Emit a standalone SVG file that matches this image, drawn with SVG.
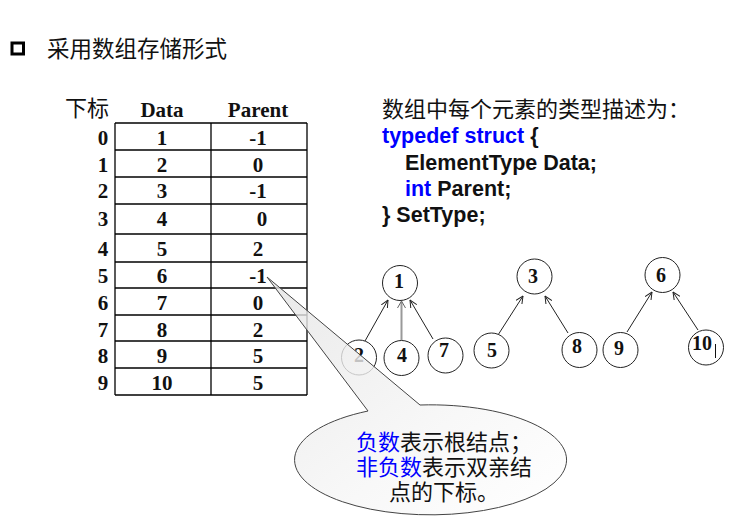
<svg xmlns="http://www.w3.org/2000/svg" width="743" height="517" viewBox="0 0 743 517">
<defs>
<style>
.cn{font-family:"Noto Sans CJK SC","Noto Sans",sans-serif;fill:#111;}
.cl{font-family:"Liberation Sans","Noto Sans CJK SC",sans-serif;font-size:22px;fill:#111;}
.blue{fill:#0000ff;}
.tb{font-family:"Liberation Serif","Times New Roman",serif;font-weight:bold;font-size:21px;fill:#111;text-anchor:middle;}
.code{font-family:"Liberation Sans",Arial,sans-serif;font-weight:bold;font-size:21.5px;fill:#111;}
.kw{fill:#0000ff;}
.grid{stroke:#000;stroke-width:1.3;fill:none;}
.node circle{fill:#fff;stroke:#222;stroke-width:1;}
.node text{font-family:"Liberation Serif","Times New Roman",serif;font-weight:bold;font-size:20px;fill:#111;text-anchor:middle;}
.edge{stroke:#222;stroke-width:1;fill:none;marker-end:url(#ah);}
</style>
<marker id="ah" viewBox="0 0 8 8" refX="7.5" refY="4" markerWidth="8" markerHeight="8" markerUnits="userSpaceOnUse" orient="auto">
<path d="M0,0.5 L7.5,4 L0,7.5" fill="none" stroke="#222" stroke-width="1"/>
</marker>
<linearGradient id="cg" x1="0" y1="0" x2="1" y2="1">
<stop offset="0" stop-color="#e4e4e4"/>
<stop offset="0.6" stop-color="#f6f6f6"/>
<stop offset="1" stop-color="#ffffff"/>
</linearGradient>
</defs>
<rect width="743" height="517" fill="#fff"/>

<g id="title">
<rect x="12" y="43" width="11.5" height="11" fill="none" stroke="#000" stroke-width="3"/>
<text class="cn" x="47" y="56.5" font-size="22.5">采用数组存储形式</text>
</g>

<g id="table">
<text class="cn" x="65" y="116" font-size="22">下标</text>
<text class="tb" x="162" y="117" font-size="21.5">Data</text>
<text class="tb" x="258" y="117" font-size="21.5">Parent</text>
<g class="grid">
<line x1="115" y1="123" x2="307" y2="123"/>
<line x1="115" y1="150" x2="307" y2="150"/>
<line x1="115" y1="177" x2="307" y2="177"/>
<line x1="115" y1="204" x2="307" y2="204"/>
<line x1="115" y1="234" x2="307" y2="234"/>
<line x1="115" y1="262" x2="307" y2="262"/>
<line x1="115" y1="288" x2="307" y2="288"/>
<line x1="115" y1="315" x2="307" y2="315"/>
<line x1="115" y1="341" x2="307" y2="341"/>
<line x1="115" y1="368" x2="307" y2="368"/>
<line x1="115" y1="395" x2="307" y2="395"/>
<line x1="115" y1="123" x2="115" y2="395"/>
<line x1="211" y1="123" x2="211" y2="395"/>
<line x1="307" y1="123" x2="307" y2="395"/>
</g>
<g class="tb">
<text x="103" y="145">0</text><text x="162" y="145">1</text><text x="258" y="145">-1</text>
<text x="103" y="172">1</text><text x="162" y="172">2</text><text x="258" y="172">0</text>
<text x="103" y="198">2</text><text x="162" y="198">3</text><text x="258" y="198">-1</text>
<text x="103" y="226">3</text><text x="162" y="226">4</text><text x="262" y="226">0</text>
<text x="103" y="256">4</text><text x="162" y="256">5</text><text x="258" y="256">2</text>
<text x="103" y="283">5</text><text x="162" y="283">6</text><text x="258" y="283">-1</text>
<text x="103" y="310">6</text><text x="162" y="310">7</text><text x="258" y="310">0</text>
<text x="103" y="337">7</text><text x="162" y="337">8</text><text x="258" y="337">2</text>
<text x="103" y="363">8</text><text x="162" y="363">9</text><text x="258" y="363">5</text>
<text x="103" y="390">9</text><text x="162" y="390">10</text><text x="258" y="390">5</text>
</g>
</g>

<g id="typedesc">
<text class="cn" x="382" y="117" font-size="22">数组中每个元素的类型描述为：</text>
<text class="code" x="382" y="143"><tspan class="kw">typedef struct</tspan> {</text>
<text class="code" x="405" y="169.5">ElementType Data;</text>
<text class="code" x="405" y="196"><tspan class="kw">int</tspan> Parent;</text>
<text class="code" x="382" y="222">} SetType;</text>
</g>

<g id="connectors">
<line class="edge" x1="365" y1="341" x2="388" y2="300"/>
<line x1="401.5" y1="340" x2="401.5" y2="302" stroke="#999" stroke-width="2"/>
<path d="M397.5,308 L401.5,301 L405.5,308" fill="none" stroke="#666" stroke-width="1"/>
<line class="edge" x1="433" y1="339" x2="410" y2="300"/>
<line class="edge" x1="498" y1="335" x2="523" y2="296"/>
<line class="edge" x1="568" y1="333" x2="545" y2="296"/>
<line class="edge" x1="627" y1="332" x2="652" y2="292"/>
<line class="edge" x1="698" y1="330" x2="673" y2="292"/>
</g>

<g id="n1" class="node"><circle cx="400" cy="283" r="17.5"/><text x="399" y="288">1</text></g>
<g id="n2" class="node"><circle cx="359" cy="357.5" r="17.5"/><text x="359" y="362">2</text></g>
<g id="n4" class="node"><circle cx="401.5" cy="358" r="17.5"/><text x="402" y="362">4</text></g>
<g id="n7" class="node"><circle cx="445.5" cy="355.5" r="17.5"/><text x="444" y="357">7</text></g>
<g id="n3" class="node"><circle cx="534.5" cy="276.5" r="17.5"/><text x="533" y="283">3</text></g>
<g id="n5" class="node"><circle cx="491.5" cy="350.5" r="17.5"/><text x="492" y="357">5</text></g>
<g id="n8" class="node"><circle cx="579.5" cy="350" r="17.5"/><text x="577" y="353">8</text></g>
<g id="n6" class="node"><circle cx="662.5" cy="275" r="17.5"/><text x="661" y="282">6</text></g>
<g id="n9" class="node"><circle cx="620.5" cy="350" r="17.5"/><text x="619" y="355">9</text></g>
<g id="n10" class="node"><circle cx="706" cy="347.5" r="17.5"/><text x="702" y="350">10</text><line x1="715.5" y1="344" x2="715.5" y2="358" stroke="#111" stroke-width="1"/></g>

<g id="callout">
<path d="M368,411 L267,277 L420,405 A136 55 0 1 1 368,411 Z" fill="url(#cg)" fill-opacity="0.8" stroke="#444" stroke-width="1"/>
<text class="cl blue" x="356" y="450">负数</text>
<text class="cl" x="400" y="450">表示根结点；</text>
<text class="cl blue" x="356" y="475">非负数</text>
<text class="cl" x="422" y="475">表示双亲结</text>
<text class="cl" x="389" y="500">点的下标。</text>
</g>
</svg>
